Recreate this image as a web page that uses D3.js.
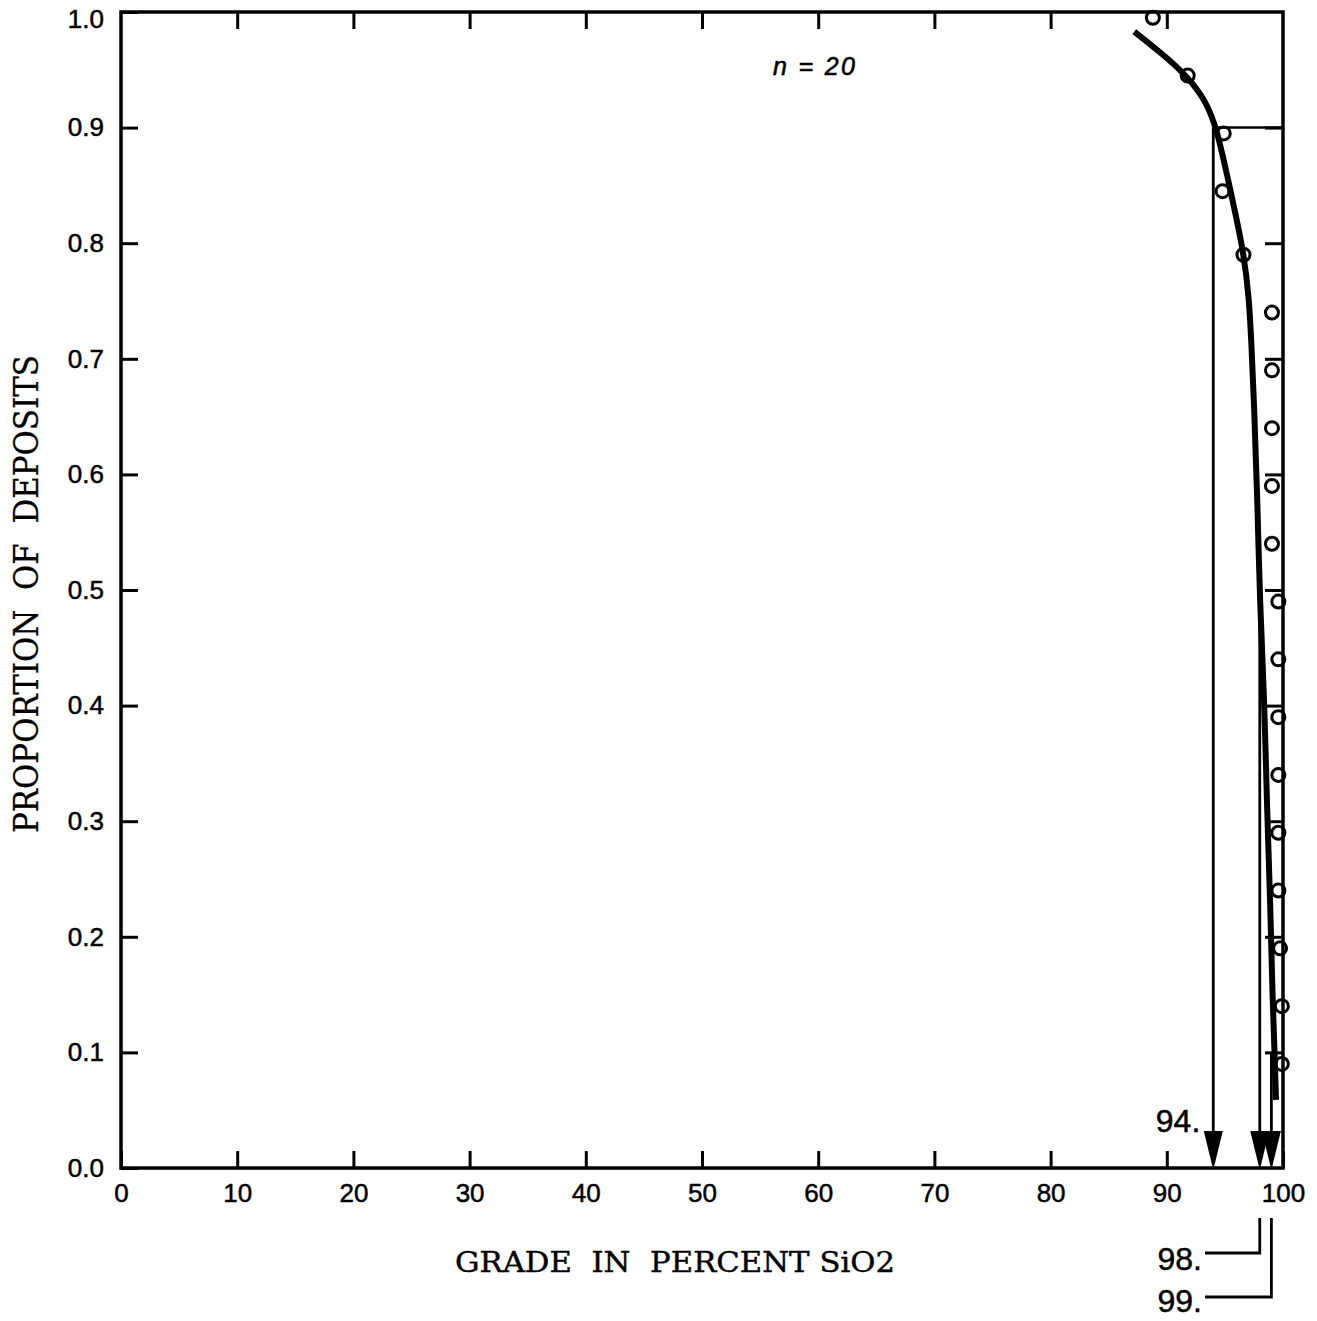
<!DOCTYPE html>
<html>
<head>
<meta charset="utf-8">
<script src="https://cdn.jsdelivr.net/npm/d3@7/dist/d3.min.js"></script>
<style>
  html, body { margin: 0; padding: 0; background: #fff; }
  svg { display: block; }
</style>
</head>
<body>
<svg id="chart" width="1317" height="1321"></svg>
<script>
// Observed grades (% SiO2) and their cumulative proportion of deposits
const grades = [88.8, 91.8, 94.9, 94.8, 96.6, 99.05, 99.05, 99.05, 99.05, 99.05,
                99.6, 99.6, 99.6, 99.6, 99.6, 99.6, 99.75, 99.9, 99.9];
const proportions = [0.995, 0.945, 0.895, 0.845, 0.79, 0.74, 0.69, 0.64, 0.59, 0.54,
                     0.49, 0.44, 0.39, 0.34, 0.29, 0.24, 0.19, 0.14, 0.09];

// Fitted distribution curve (grade, proportion)
const curveGrades = [87.2, 89.6, 91.8, 93.3, 94.3, 95.4, 96.6, 97.1, 97.3, 97.5,
                     97.8, 98.0, 98.4, 98.6, 98.9, 99.1, 99.3, 99.4];
const curveProps  = [0.983, 0.964, 0.944, 0.924, 0.90, 0.849, 0.794, 0.751, 0.708, 0.664,
                     0.578, 0.491, 0.405, 0.318, 0.232, 0.145, 0.093, 0.059];

// Percentile read-offs: proportion level -> grade
const readLevels = [0.9, 0.5, 0.1];
const readGrades = [94, 98, 99];
const readLabels = ["94.", "98.", "99."];

const xTicks = [0, 10, 20, 30, 40, 50, 60, 70, 80, 90, 100];
const yTicks = [0.0, 0.1, 0.2, 0.3, 0.4, 0.5, 0.6, 0.7, 0.8, 0.9, 1.0];

const sampleSize = 20;

const svg = d3.select("#chart");
const plotLeft = 121, plotRight = 1283, plotTop = 12, plotBottom = 1168;

const x = d3.scaleLinear().domain([0, 100]).range([plotLeft, plotRight]);
const y = d3.scaleLinear().domain([0, 1]).range([plotBottom, plotTop]);

const sans = "'Liberation Sans', Arial, Helvetica, sans-serif";
const serif = "'DejaVu Serif', 'Liberation Serif', serif";

// Axes with inward ticks
const gLeft = svg.append("g").attr("transform", `translate(${plotLeft},0)`)
  .call(d3.axisLeft(y).tickValues(yTicks).tickFormat(d3.format(".1f"))
        .tickSizeInner(-17).tickSizeOuter(0).tickPadding(17));
const gBottom = svg.append("g").attr("transform", `translate(0,${plotBottom})`)
  .call(d3.axisBottom(x).tickValues(xTicks).tickFormat(d3.format("d"))
        .tickSizeInner(-17).tickSizeOuter(0).tickPadding(16));
const gTop = svg.append("g").attr("transform", `translate(0,${plotTop})`)
  .call(d3.axisTop(x).tickValues(xTicks.slice(1, -1)).tickFormat("")
        .tickSizeInner(-17).tickSizeOuter(0));
const gRight = svg.append("g").attr("transform", `translate(${plotRight},0)`)
  .call(d3.axisRight(y).tickValues(yTicks.slice(1, -1)).tickFormat("")
        .tickSizeInner(-18).tickSizeOuter(0));

[gLeft, gBottom, gTop, gRight].forEach(g => {
  g.select(".domain").remove();
  g.selectAll(".tick line").attr("stroke", "#000").attr("stroke-width", 3);
  g.selectAll(".tick text")
    .attr("fill", "#000").attr("stroke", "#000").attr("stroke-width", 0.5)
    .attr("font-family", sans).attr("font-size", 26);
});
// keep the top label inside the page
gLeft.selectAll(".tick text").filter(d => d === 1).attr("dy", "0.6em");

// Frame
svg.append("rect")
  .attr("x", plotLeft).attr("y", plotTop)
  .attr("width", plotRight - plotLeft).attr("height", plotBottom - plotTop)
  .attr("fill", "none").attr("stroke", "#000").attr("stroke-width", 3.5);

// Read-off guides
const ink = svg.append("g").attr("stroke", "#000").attr("fill", "none");
ink.append("line")
  .attr("x1", x(readGrades[0])).attr("x2", plotRight)
  .attr("y1", y(readLevels[0])).attr("y2", y(readLevels[0]))
  .attr("stroke-width", 2.5);

readGrades.forEach((g, i) => {
  ink.append("line")
    .attr("x1", x(g)).attr("x2", x(g))
    .attr("y1", y(readLevels[i])).attr("y2", y(0) - 20)
    .attr("stroke-width", 2.8);
  svg.append("path")
    .attr("d", `M${x(g) - 9.5},${y(0) - 37}L${x(g) + 9.5},${y(0) - 37}L${x(g)},${y(0) + 2}Z`)
    .attr("fill", "#000");
});

// Fitted curve
const curvePts = curveGrades.map((g, i) => [x(g), y(curveProps[i])]);
svg.append("path")
  .attr("d", d3.line().curve(d3.curveBasis)(curvePts))
  .attr("fill", "none").attr("stroke", "#000")
  .attr("stroke-width", 6).attr("stroke-linecap", "butt");

// Observed points
svg.append("g").selectAll("circle")
  .data(grades.map((g, i) => [g, proportions[i]]))
  .join("circle")
  .attr("cx", d => x(d[0])).attr("cy", d => y(d[1]))
  .attr("r", 6.5)
  .attr("fill", "none").attr("stroke", "#000").attr("stroke-width", 3);

// Value labels
const labelStyle = sel => sel
  .attr("text-anchor", "end").attr("font-family", sans).attr("font-size", 32)
  .attr("fill", "#000").attr("stroke", "#000").attr("stroke-width", 0.5);

svg.append("text")
  .attr("x", x(readGrades[0]) - 13).attr("y", 1132)
  .call(labelStyle)
  .text(readLabels[0]);

const leaderBottoms = [1253, 1297];
const labelBaselines = [1270, 1312];
[1, 2].forEach((i, k) => {
  ink.append("path")
    .attr("d", `M${x(readGrades[i])},1218V${leaderBottoms[k]}H1205`)
    .attr("stroke-width", 2.8);
  svg.append("text")
    .attr("x", 1202).attr("y", labelBaselines[k])
    .call(labelStyle)
    .text(readLabels[i]);
});

// Sample size note
svg.append("text")
  .attr("x", 773).attr("y", 75)
  .attr("font-family", sans).attr("font-style", "italic").attr("font-size", 25)
  .attr("fill", "#000").attr("stroke", "#000").attr("stroke-width", 0.6)
  .attr("textLength", 82).attr("lengthAdjust", "spacing")
  .text(`n = ${sampleSize}`);

// Axis titles
svg.append("text")
  .attr("x", 455).attr("y", 1272)
  .attr("font-family", serif).attr("font-size", 27)
  .attr("fill", "#000").attr("stroke", "#000").attr("stroke-width", 0.4)
  .attr("textLength", 440).attr("lengthAdjust", "spacingAndGlyphs")
  .style("white-space", "pre")
  .text("GRADE  IN  PERCENT SiO2");

svg.append("text")
  .attr("transform", "translate(38,833) rotate(-90)")
  .attr("font-family", serif).attr("font-size", 34)
  .attr("fill", "#000").attr("stroke", "#000").attr("stroke-width", 0.3)
  .attr("textLength", 478).attr("lengthAdjust", "spacingAndGlyphs")
  .style("white-space", "pre")
  .text("PROPORTION  OF  DEPOSITS");
</script>
</body>
</html>
